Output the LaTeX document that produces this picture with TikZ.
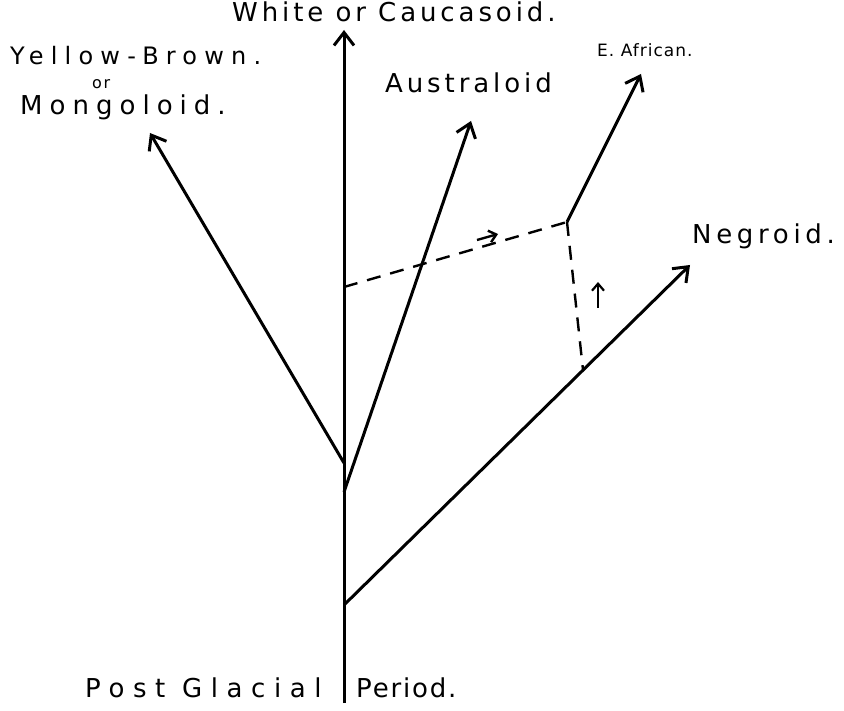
\documentclass[tikz,border=0pt]{standalone}
\usepackage{fontspec}
\usetikzlibrary{arrows.meta}
\newfontfamily\handfont{DejaVu Sans}
\newcommand{\hsp}[2]{\handfont\fontsize{#1}{#1}\selectfont\addfontfeature{LetterSpace=#2}}
\begin{document}
\begin{tikzpicture}[x=1pt,y=-1pt,
  branch/.style={line width=3pt,-{Straight Barb[length=13pt,width=20pt,line width=3pt]}},
  dashline/.style={line width=2.4pt,dash pattern=on 14pt off 10pt},
  lbl/.style={inner sep=0pt,anchor=west}]
\useasboundingbox[fill=white] (0,0) rectangle (844,711);
% junction coordinates
\coordinate (base) at (344,703);
\coordinate (top) at (344,30);
\coordinate (j1) at (344,463);
\coordinate (j2) at (344,492);
\coordinate (j3) at (344,605);
\coordinate (d1) at (344,287);
\coordinate (d2) at (567,222);
\coordinate (d3) at (583,370);
\coordinate (mong) at (150,133);
\coordinate (aust) at (471,121);
\coordinate (afr) at (641,74);
\coordinate (negr) at (690,265);
\coordinate (m1) at (477,240);
\coordinate (m2) at (498,234);
\coordinate (u1) at (598,308);
\coordinate (u2) at (598,282);
% lines
\draw[branch] (base) -- (top);
\draw[branch] (j1) -- (mong);
\draw[branch] (j2) -- (aust);
\draw[branch] (j3) -- (negr);
\draw[branch] (d2) -- (afr);
\draw[dashline] (d1) -- (d2);
\draw[dashline] (d2) -- (d3);
\draw[line width=2.4pt,-{Straight Barb[length=7pt,width=12pt,line width=2.4pt]}] (m1) -- (m2);
\draw[line width=2.2pt,-{Straight Barb[length=7pt,width=12pt,line width=2.2pt]}] (u1) -- (u2);
% labels
\node[lbl,font=\hsp{26}{15}] (tWhite) at (232,12) {White or Caucasoid.};
\node[lbl,font=\hsp{24}{30}] (tYellow) at (10,56) {Yellow-Brown.};
\node[lbl,font=\hsp{16}{10}] (tOr) at (92,84) {or};
\node[lbl,font=\hsp{26}{27}] (tMong) at (20,107) {Mongoloid.};
\node[lbl,font=\hsp{26}{15}] (tAust) at (385,83) {Australoid};
\node[lbl,font=\hsp{17}{6}] (tAfr) at (597,50) {E. African.};
\node[lbl,font=\hsp{26}{18}] (tNegr) at (692,236) {Negroid.};
\node[lbl,font=\hsp{26}{33}] (tPost) at (85,688) {Post Glacial};
\node[lbl,font=\hsp{26}{7}] (tPer) at (356,688) {Period.};
\end{tikzpicture}
\end{document}
